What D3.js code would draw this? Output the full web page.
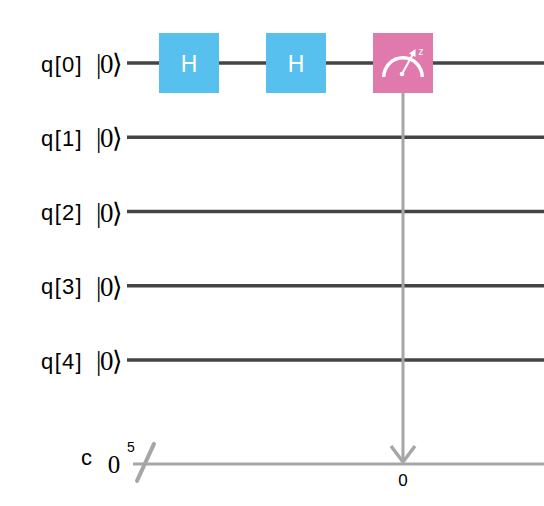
<!DOCTYPE html>
<html>
<head>
<meta charset="utf-8">
<script src="https://cdn.jsdelivr.net/npm/d3@7"></script>
<style>
  html, body { margin: 0; padding: 0; background: #ffffff; }
  svg { display: block; }
</style>
</head>
<body>
<div id="chart"></div>
<script>
// ---- data ----
const qubitLabels = ["q[0]", "q[1]", "q[2]", "q[3]", "q[4]"];
const initStates = ["|0⟩", "|0⟩", "|0⟩", "|0⟩", "|0⟩"];
const gateNames = ["H", "H", "measure"];
const gateQubits = [0, 0, 0];
const gateColumns = [0, 1, 2];
const measureClbits = [null, null, 0];
const classicalLabel = "c";
const classicalInit = "0";
const classicalSize = 5;

// ---- layout ----
const W = 544, H = 506;
const svg = d3.select("#chart").append("svg").attr("width", W).attr("height", H);

const y = d3.scaleLinear().domain([0, 4]).range([63, 360]);
const classicalIndex = 5.4;
const yC = y(classicalIndex);
const x = d3.scaleLinear().domain([0, 2]).range([189, 403]);

const gateSize = 60;
const wireStart = 127;
const colors = { H: "#57c0ee", measure: "#e07aac" };
const wireColor = "#444444";
const clColor = "#a6a6a6";
const sans = "Liberation Sans, Arial, sans-serif";
const serif = "Liberation Serif, DejaVu Serif, Times New Roman, serif";

// qubit wires
svg.selectAll("line.qwire").data(qubitLabels).join("line")
  .attr("class", "qwire")
  .attr("x1", wireStart).attr("x2", W)
  .attr("y1", (d, i) => y(i)).attr("y2", (d, i) => y(i))
  .attr("stroke", wireColor).attr("stroke-width", 3.5);

// qubit labels
svg.selectAll("text.qlabel").data(qubitLabels).join("text")
  .attr("class", "qlabel")
  .attr("x", 83).attr("y", (d, i) => y(i) + 1)
  .attr("text-anchor", "end").attr("dominant-baseline", "central")
  .attr("font-family", sans).attr("letter-spacing", 1.3)
  .attr("font-size", 22).attr("fill", "#000")
  .text(d => d);

// init states (ket)
svg.selectAll("text.ket").data(initStates).join("text")
  .attr("class", "ket")
  .attr("x", 96).attr("y", (d, i) => y(i) + 1)
  .attr("dominant-baseline", "central")
  .attr("font-family", serif).attr("letter-spacing", -1.5)
  .attr("font-size", 27).attr("fill", "#000")
  .text(d => d);

// classical wire
svg.append("line")
  .attr("x1", 133).attr("x2", W).attr("y1", yC).attr("y2", yC)
  .attr("stroke", clColor).attr("stroke-width", 3);
svg.append("line")
  .attr("x1", 137).attr("y1", yC + 17).attr("x2", 154).attr("y2", yC - 20)
  .attr("stroke", clColor).attr("stroke-width", 4).attr("stroke-linecap", "round");
svg.append("text")
  .attr("x", 131).attr("y", yC - 17)
  .attr("text-anchor", "middle").attr("dominant-baseline", "central")
  .attr("font-family", sans)
  .attr("font-size", 14).attr("fill", "#000")
  .text(classicalSize);
svg.append("text")
  .attr("x", 92).attr("y", yC - 6)
  .attr("text-anchor", "end").attr("dominant-baseline", "central")
  .attr("font-family", sans)
  .attr("font-size", 22).attr("fill", "#000")
  .text(classicalLabel);
svg.append("text")
  .attr("x", 114).attr("y", yC + 1)
  .attr("text-anchor", "middle").attr("dominant-baseline", "central")
  .attr("font-family", serif)
  .attr("font-size", 25).attr("fill", "#000")
  .text(classicalInit);

// gates
const gates = gateNames.map((n, i) => ({ name: n, q: gateQubits[i], col: gateColumns[i], cl: measureClbits[i] }));

// measurement connectors (drawn under boxes)
gates.filter(g => g.name === "measure").forEach(g => {
  const cx = x(g.col);
  svg.append("line")
    .attr("x1", cx).attr("x2", cx)
    .attr("y1", y(g.q) + gateSize / 2).attr("y2", yC - 2)
    .attr("stroke", clColor).attr("stroke-width", 3);
  svg.append("path")
    .attr("d", `M${cx - 12},${yC - 18} L${cx},${yC - 2} L${cx + 12},${yC - 18}`)
    .attr("fill", "none").attr("stroke", clColor).attr("stroke-width", 3.5);
  svg.append("text")
    .attr("x", cx).attr("y", yC + 17)
    .attr("text-anchor", "middle").attr("dominant-baseline", "central")
    .attr("font-family", sans)
    .attr("font-size", 17).attr("fill", "#000")
    .text(g.cl);
});

const gG = svg.selectAll("g.gate").data(gates).join("g")
  .attr("class", "gate")
  .attr("transform", d => `translate(${x(d.col)},${y(d.q)})`);
gG.append("rect")
  .attr("x", -gateSize / 2).attr("y", -gateSize / 2)
  .attr("width", gateSize).attr("height", gateSize)
  .attr("fill", d => colors[d.name]);
gG.filter(d => d.name !== "measure").append("text")
  .attr("x", 0).attr("y", 1)
  .attr("text-anchor", "middle").attr("dominant-baseline", "central")
  .attr("font-family", sans)
  .attr("font-size", 23).attr("fill", "#fff")
  .text(d => d.name);

// meter icon
const meter = gG.filter(d => d.name === "measure");
const arc = d3.arc().innerRadius(17.5).outerRadius(21).startAngle(-Math.PI / 2).endAngle(Math.PI / 2);
meter.append("path").attr("d", arc()).attr("transform", "translate(0,14)").attr("fill", "#fff");
meter.append("circle").attr("cx", -1).attr("cy", 11).attr("r", 2.3).attr("fill", "#fff");
meter.append("line")
  .attr("x1", -1).attr("y1", 11).attr("x2", 10).attr("y2", -9)
  .attr("stroke", "#fff").attr("stroke-width", 2);
meter.append("path")
  .attr("d", "M12.5,-14 L12.5,-6 L6,-9.5 Z")
  .attr("fill", "#fff");
meter.append("text")
  .attr("x", 18).attr("y", -12)
  .attr("text-anchor", "middle").attr("dominant-baseline", "central")
  .attr("font-family", sans)
  .attr("font-size", 10).attr("fill", "#fff")
  .text("z");
</script>
</body>
</html>
